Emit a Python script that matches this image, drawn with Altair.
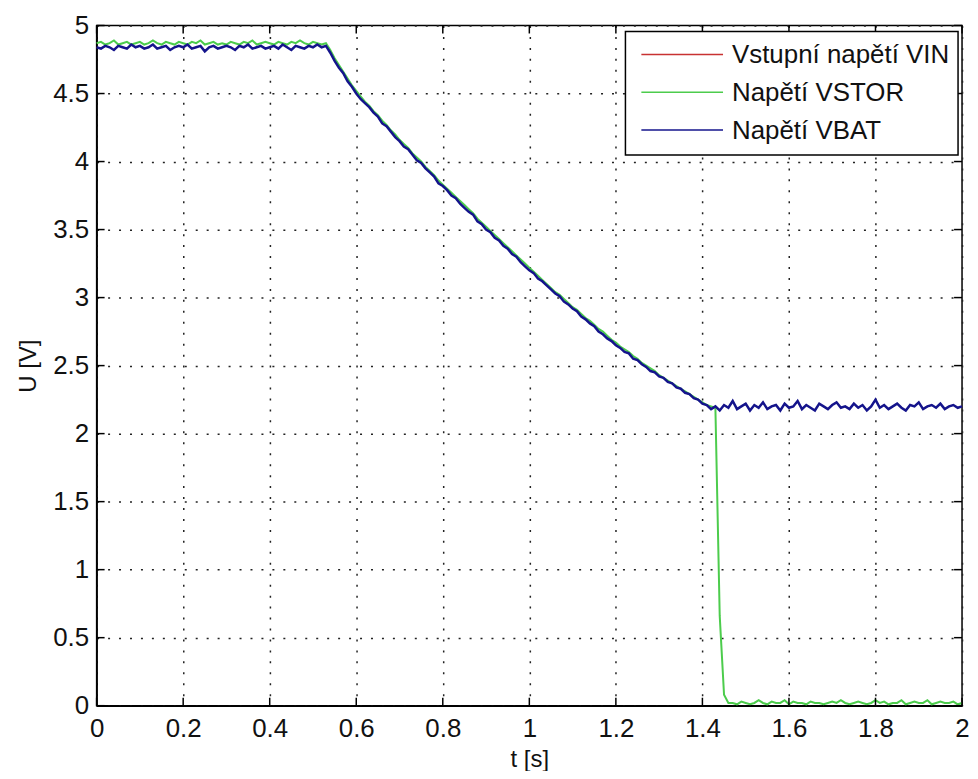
import altair as alt
import pandas as pd

# sample times (s)
t = [round(i * 0.01, 2) for i in range(201)]

v_bat = [
    4.84, 4.83, 4.85, 4.84, 4.82, 4.85, 4.84, 4.83, 4.86, 4.84,
    4.85, 4.83, 4.84, 4.86, 4.83, 4.84, 4.85, 4.82, 4.84, 4.85,
    4.84, 4.86, 4.83, 4.84, 4.85, 4.81, 4.84, 4.85, 4.83, 4.84,
    4.85, 4.84, 4.82, 4.85, 4.84, 4.86, 4.83, 4.84, 4.85, 4.83,
    4.84, 4.85, 4.83, 4.86, 4.84, 4.82, 4.85, 4.84, 4.83, 4.85,
    4.84, 4.86, 4.84, 4.85,
    4.80, 4.74, 4.69, 4.65, 4.59, 4.55, 4.50,
    4.46, 4.43, 4.40, 4.36, 4.33, 4.28, 4.26, 4.22, 4.18, 4.15,
    4.11, 4.09, 4.05, 4.01, 3.99, 3.95, 3.92, 3.89, 3.84, 3.82,
    3.79, 3.75, 3.73, 3.69, 3.66, 3.63, 3.61, 3.56, 3.54, 3.50,
    3.48, 3.44, 3.42, 3.38, 3.36, 3.32, 3.30, 3.26, 3.23, 3.20,
    3.18, 3.14, 3.12, 3.09, 3.06, 3.03, 3.01, 2.97, 2.95, 2.92,
    2.90, 2.86, 2.84, 2.81, 2.79, 2.75, 2.73, 2.70, 2.68, 2.65,
    2.63, 2.60, 2.59, 2.55, 2.54, 2.51, 2.49, 2.46, 2.45, 2.42,
    2.41, 2.38, 2.37, 2.34, 2.33, 2.30, 2.29, 2.26, 2.25, 2.22,
    2.21, 2.18, 2.20,
    2.17, 2.21, 2.19, 2.24, 2.18, 2.20, 2.22, 2.17, 2.21, 2.19,
    2.23, 2.18, 2.20, 2.21, 2.17, 2.22, 2.19, 2.20, 2.24, 2.18,
    2.21, 2.19, 2.17, 2.22, 2.20, 2.18, 2.21, 2.23, 2.19, 2.20,
    2.18, 2.22, 2.19, 2.21, 2.17, 2.20, 2.25, 2.19, 2.21, 2.18,
    2.20, 2.22, 2.19, 2.17, 2.21, 2.20, 2.23, 2.18, 2.20, 2.21,
    2.19, 2.22, 2.18, 2.20, 2.21, 2.19, 2.20,
]

v_stor = [
    4.87, 4.88, 4.86, 4.87, 4.89, 4.86, 4.87, 4.88, 4.86, 4.87,
    4.88, 4.86, 4.87, 4.89, 4.87, 4.86, 4.88, 4.87, 4.86, 4.88,
    4.87, 4.86, 4.88, 4.87, 4.89, 4.86, 4.87, 4.88, 4.86, 4.87,
    4.86, 4.88, 4.87, 4.86, 4.88, 4.87, 4.89, 4.86, 4.87, 4.88,
    4.87, 4.86, 4.88, 4.87, 4.86, 4.88, 4.87, 4.89, 4.87, 4.86,
    4.88, 4.87, 4.86, 4.87,
    4.82, 4.76, 4.71, 4.66, 4.61, 4.56, 4.52,
    4.48, 4.44, 4.41, 4.37, 4.34, 4.30, 4.27, 4.23, 4.20, 4.16,
    4.13, 4.10, 4.06, 4.03, 4.00, 3.96, 3.93, 3.90, 3.86, 3.83,
    3.80, 3.77, 3.74, 3.71, 3.68, 3.65, 3.62, 3.58, 3.55, 3.52,
    3.49, 3.46, 3.43, 3.40, 3.37, 3.34, 3.31, 3.28, 3.25, 3.22,
    3.19, 3.16, 3.13, 3.10, 3.07, 3.04, 3.02, 2.99, 2.96, 2.93,
    2.91, 2.88, 2.85, 2.83, 2.80, 2.77, 2.75, 2.72, 2.69, 2.67,
    2.64, 2.62, 2.60, 2.57, 2.55, 2.52, 2.50, 2.48, 2.46, 2.43,
    2.41, 2.39, 2.37, 2.35, 2.33, 2.31, 2.29, 2.27, 2.25, 2.23,
    2.21, 2.20, 2.19,
    0.66, 0.08, 0.02,
    0.02, 0.01, 0.03, 0.02, 0.01, 0.02, 0.04, 0.02, 0.01, 0.03,
    0.02, 0.02, 0.04, 0.01, 0.03, 0.02, 0.02, 0.01, 0.03, 0.02,
    0.02, 0.01, 0.02, 0.03, 0.02, 0.04, 0.02, 0.01, 0.02, 0.03,
    0.02, 0.01, 0.02, 0.04, 0.02, 0.03, 0.01, 0.02, 0.02, 0.04,
    0.01, 0.02, 0.03, 0.02, 0.02, 0.04, 0.01, 0.02, 0.03, 0.02,
    0.02, 0.03, 0.01, 0.02,
]

# VIN is hidden beneath the other two traces in the reference
v_in = v_bat

series_names = ["Vstupní napětí VIN", "Napětí VSTOR", "Napětí VBAT"]
series_colors = ["#c83232", "#4ccc4c", "#14148c"]
x_ticks = [0, 0.2, 0.4, 0.6, 0.8, 1.0, 1.2, 1.4, 1.6, 1.8, 2.0]
y_ticks = [0, 0.5, 1, 1.5, 2, 2.5, 3, 3.5, 4, 4.5, 5]

W, H = 869, 683
FONT = "Liberation Sans"
FS = 26

frames = []
for name, vals in zip(series_names, [v_in, v_stor, v_bat]):
    frames.append(pd.DataFrame({"t": t, "U": vals, "series": name}))

xscale = alt.Scale(domain=[0, 2], nice=False, zero=False)
yscale = alt.Scale(domain=[0, 5], nice=False, zero=False)
cscale = alt.Scale(domain=series_names, range=series_colors)

xaxis = alt.Axis(values=x_ticks, title="t [s]", format="~g", labelFlush=False,
                 ticks=False, labelPadding=10, titleFontSize=24,
                 titleY=61, titleBaseline="alphabetic")
yaxis = alt.Axis(values=y_ticks, title="U [V]", format="~g", labelFlush=False, ticks=False,
                 labelPadding=8, titlePadding=12, titleFontSize=24)

layers = []
for i, df in enumerate(frames):
    enc = dict(
        x=alt.X("t:Q", scale=xscale, axis=xaxis),
        y=alt.Y("U:Q", scale=yscale, axis=yaxis),
        color=alt.Color("series:N", scale=cscale, legend=None),
    )
    sw = [1.2, 2.0, 2.5][i]
    layers.append(alt.Chart(df).mark_line(strokeWidth=sw).encode(**enc))

# inward tick marks (MATLAB box style)
xt_df = pd.DataFrame({"t": x_ticks})
yt_df = pd.DataFrame({"U": y_ticks})
tk = 8
tick_style = dict(color="black", strokeWidth=1.5)
layers += [
    alt.Chart(xt_df).mark_rule(**tick_style).encode(x=alt.X("t:Q", scale=xscale, axis=xaxis), y=alt.value(H), y2=alt.value(H - tk)),
    alt.Chart(xt_df).mark_rule(**tick_style).encode(x=alt.X("t:Q", scale=xscale, axis=xaxis), y=alt.value(0), y2=alt.value(tk)),
    alt.Chart(yt_df).mark_rule(**tick_style).encode(y=alt.Y("U:Q", scale=yscale, axis=yaxis), x=alt.value(0), x2=alt.value(tk)),
    alt.Chart(yt_df).mark_rule(**tick_style).encode(y=alt.Y("U:Q", scale=yscale, axis=yaxis), x=alt.value(W), x2=alt.value(W - tk)),
]

# legend box
lx0, lx1, ly0, ly1 = 531, 865, 6, 130
layers.append(
    alt.Chart(pd.DataFrame({"a": [0]})).mark_rect(fill="white", stroke="black", strokeWidth=1.5).encode(
        x=alt.value(lx0), x2=alt.value(lx1), y=alt.value(ly0), y2=alt.value(ly1)
    )
)
row_y = [29, 67, 105]
for name, color, ry in zip(series_names, series_colors, row_y):
    d = pd.DataFrame({"series": [name]})
    layers.append(
        alt.Chart(d).mark_rule(color=color, strokeWidth=1.5).encode(
            x=alt.value(547), x2=alt.value(629), y=alt.value(ry)
        )
    )
    layers.append(
        alt.Chart(d).mark_text(align="left", baseline="middle", font=FONT, fontSize=FS, color="#111").encode(
            x=alt.value(638), y=alt.value(ry + 1), text="series:N"
        )
    )

chart = alt.layer(*layers).properties(
    width=W, height=H,
    autosize=alt.AutoSizeParams(type="none"),
    padding={"left": 89, "top": 16, "right": 8, "bottom": 64},
    background="white",
).configure_view(stroke="black", strokeWidth=1.5).configure_axis(
    domainColor="black", domainWidth=1.5,
    labelFont=FONT, labelFontSize=FS, labelColor="#111",
    titleFont=FONT, titleColor="#111", titleFontWeight="normal",
    grid=True, gridColor="#222", gridDash=[2, 9], gridWidth=1.5, gridOpacity=1,
)

chart.save("out.html", embed_options={"renderer": "svg", "actions": False})
